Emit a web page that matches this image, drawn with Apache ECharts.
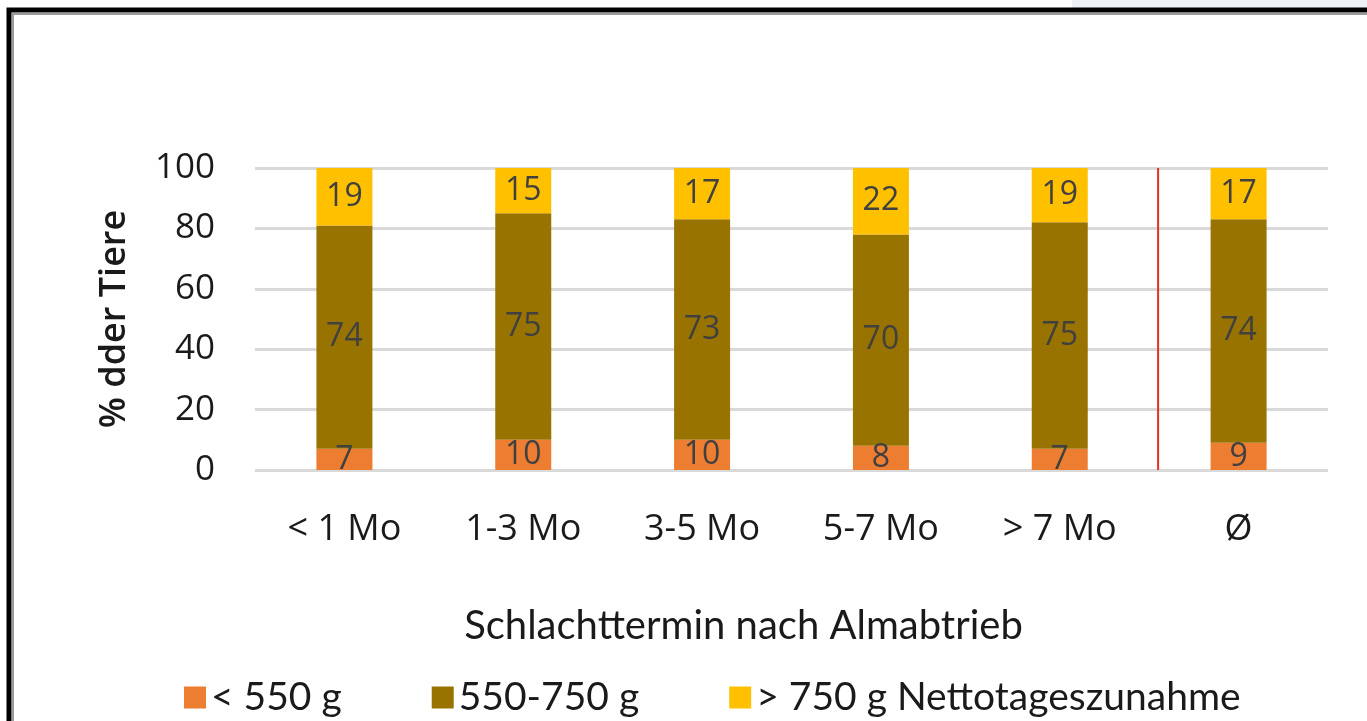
<!DOCTYPE html>
<html>
<head>
<meta charset="utf-8">
<script src="https://cdn.jsdelivr.net/npm/echarts@6/dist/echarts.min.js"></script>
<style>
  html, body { margin: 0; padding: 0; background: #ffffff; }
  #chart { width: 1367px; height: 721px; }
</style>
</head>
<body>
<div id="chart"></div>
<script>
// Slaughter date after the alpine descent (months)
const categories = ['< 1 Mo', '1-3 Mo', '3-5 Mo', '5-7 Mo', '> 7 Mo', 'Ø'];

// Share of animals (%) per net daily gain class
const below550 = [7, 10, 10, 8, 7, 9];
const from550to750 = [74, 75, 73, 70, 75, 74];
const above750 = [19, 15, 17, 22, 19, 17];

const seriesNames = ['< 550 g', '550-750 g', '> 750 g Nettotageszunahme'];
const yTicks = [0, 20, 40, 60, 80, 100];

// Separator between the single groups and the average column (in category units)
const separatorAt = 5.05;

const colors = ['#ED7D31', '#997300', '#FFC000'];
const sansSegoe = '"Open Sans", "Noto Sans", sans-serif';
const sansCalibri = 'Lato, "Open Sans", sans-serif';

const chart = echarts.init(document.getElementById('chart'), null, { renderer: 'canvas' });

function barSeries(name, data, color) {
  return {
    name: name,
    type: 'bar',
    stack: 'total',
    data: data,
    barWidth: 56,
    clip: true,
    itemStyle: { color: color },
    label: {
      show: true,
      position: 'inside',
      color: '#404040',
      fontFamily: sansSegoe,
      fontSize: 32
    },
    emphasis: { disabled: true }
  };
}

const option = {
  backgroundColor: '#ffffff',
  animation: false,
  color: colors,
  grid: { left: 255, right: 39, top: 168, bottom: 251 },
  legend: {
    left: 184,
    top: 678,
    padding: 0,
    itemWidth: 22,
    itemHeight: 22,
    itemGap: 90,
    icon: 'rect',
    selectedMode: false,
    textStyle: { fontFamily: sansCalibri, fontSize: 39, color: '#1a1a1a' },
    data: seriesNames
  },
  xAxis: [
    {
      type: 'category',
      data: categories,
      axisLine: { show: false },
      axisTick: { show: false },
      axisLabel: { color: '#1a1a1a', fontFamily: sansSegoe, fontSize: 36, margin: 42 },
      name: 'Schlachttermin nach Almabtrieb',
      nameLocation: 'middle',
      nameGap: 136,
      nameTextStyle: {
        color: '#1a1a1a',
        fontFamily: sansCalibri,
        fontSize: 40,
        padding: [0, 96, 0, 0]
      }
    },
    {
      type: 'value',
      min: 0,
      max: categories.length,
      show: false
    }
  ],
  yAxis: {
    type: 'value',
    min: yTicks[0],
    max: yTicks[yTicks.length - 1],
    interval: yTicks[1] - yTicks[0],
    axisLine: { show: false },
    axisTick: { show: false },
    axisLabel: { color: '#1a1a1a', fontFamily: sansSegoe, fontSize: 35, margin: 40 },
    splitLine: { lineStyle: { color: '#d9d9d9', width: 3 } },
    name: '% dder Tiere',
    nameLocation: 'middle',
    nameGap: 122,
    nameRotate: 90,
    nameTextStyle: { color: '#1a1a1a', fontFamily: sansSegoe, fontSize: 36, fontWeight: 600 }
  },
  series: [
    barSeries(seriesNames[0], below550, colors[0]),
    barSeries(seriesNames[1], from550to750, colors[1]),
    barSeries(seriesNames[2], above750, colors[2]),
    {
      name: 'separator',
      type: 'line',
      xAxisIndex: 1,
      yAxisIndex: 0,
      data: [[separatorAt, yTicks[0]], [separatorAt, yTicks[yTicks.length - 1]]],
      symbol: 'none',
      lineStyle: { color: '#E8301C', width: 2 },
      silent: true,
      z: 1
    }
  ],
  graphic: [
    {
      type: 'rect',
      shape: { x: 1072, y: 0, width: 295, height: 9 },
      style: { fill: '#eef2f5' },
      silent: true
    },
    {
      type: 'polyline',
      shape: { points: [[13, 721], [13, 14], [1367, 14]] },
      style: { stroke: '#9a9a9a', lineWidth: 2, fill: null },
      silent: true
    },
    {
      type: 'polyline',
      shape: { points: [[9, 721], [9, 10], [1367, 10]] },
      style: { stroke: '#000000', lineWidth: 5, fill: null },
      silent: true
    }
  ]
};

chart.setOption(option);
</script>
</body>
</html>
